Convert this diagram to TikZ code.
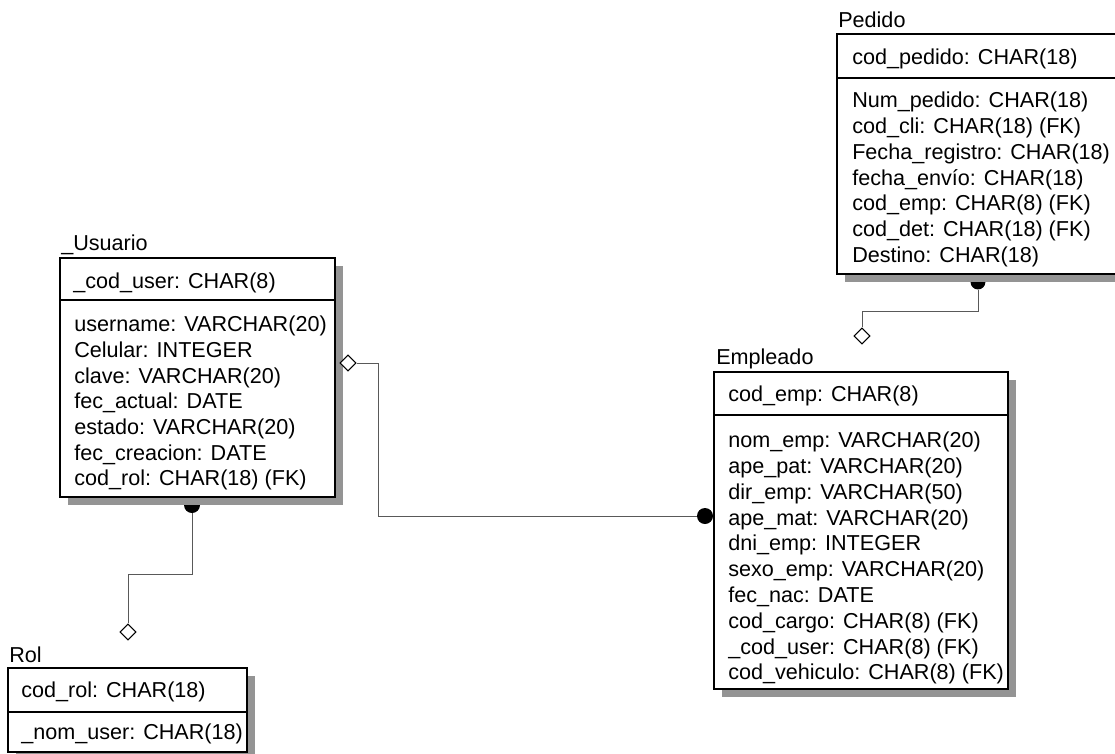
\documentclass[tikz,border=0pt]{standalone}
\usepackage{fontspec}
\setmainfont{Liberation Sans}
\usetikzlibrary{shapes.geometric}
\begin{document}
\begin{tikzpicture}[x=0.75pt,y=-0.75pt,
  tbl/.style={draw=black, line width=0.9pt, fill=white},
  sep/.style={draw=black, line width=0.9pt},
  shade/.style={fill=black!42},
  row/.style={anchor=west, inner sep=0pt, text height=11.6pt, text depth=0pt, font=\fontsize{16.2pt}{19pt}\selectfont},
  conn/.style={draw=black!65, line width=0.6pt},
  dia/.style={diamond, draw=black, line width=0.8pt, fill=white, inner sep=0pt, minimum width=12pt, minimum height=12pt},
  dot/.style={circle, fill=black, inner sep=0pt, minimum size=12pt}]
\clip (0,0) rectangle (1115,754);
\useasboundingbox (0,0) rectangle (1115,754);

% ---------- shadows ----------
\fill[shade] (845,42) rectangle (1133,282);
\fill[shade] (68,266) rectangle (343,505);
\fill[shade] (722,380) rectangle (1016,697);
\fill[shade] (16,676) rectangle (255,760);

% ---------- Pedido ----------
\node[row] (pedT) at (838,20) {Pedido};
\draw[tbl] (837,34) rectangle (1125,274);
\draw[sep] (837,78) -- (1125,78);
\node[row] (pedK) at (852,57) {cod\_pedido: CHAR(18)};
\foreach \t [count=\i from 0] in {Num\_pedido: CHAR(18), cod\_cli: CHAR(18) (FK), Fecha\_registro: CHAR(18), fecha\_envío: CHAR(18), cod\_emp: CHAR(8) (FK), cod\_det: CHAR(18) (FK), Destino: CHAR(18)}
  \node[row] (ped\i) at (852,{100+25.8*\i}) {\t};

% ---------- _Usuario ----------
\node[row] (usrT) at (61,243) {\_Usuario};
\draw[tbl] (60,258) rectangle (335,497);
\draw[sep] (60,300) -- (335,300);
\node[row] (usrK) at (73,281) {\_cod\_user: CHAR(8)};
\foreach \t [count=\i from 0] in {username: VARCHAR(20), Celular: INTEGER, clave: VARCHAR(20), fec\_actual: DATE, estado: VARCHAR(20), fec\_creacion: DATE, cod\_rol: CHAR(18) (FK)}
  \node[row] (usr\i) at (74,{324+25.7*\i}) {\t};

% ---------- Empleado ----------
\node[row] (empT) at (716,357) {Empleado};
\draw[tbl] (714,372) rectangle (1008,689);
\draw[sep] (714,415) -- (1008,415);
\node[row] (empK) at (728,394) {cod\_emp: CHAR(8)};
\foreach \t [count=\i from 0] in {nom\_emp: VARCHAR(20), ape\_pat: VARCHAR(20), dir\_emp: VARCHAR(50), ape\_mat: VARCHAR(20), dni\_emp: INTEGER, sexo\_emp: VARCHAR(20), fec\_nac: DATE, cod\_cargo: CHAR(8) (FK), \_cod\_user: CHAR(8) (FK), cod\_vehiculo: CHAR(8) (FK)}
  \node[row] (emp\i) at (728,{440+25.8*\i}) {\t};

% ---------- Rol ----------
\node[row] (rolT) at (9,655) {Rol};
\draw[tbl] (8,668) rectangle (247,752);
\draw[sep] (8,712) -- (247,712);
\node[row] (rolK) at (21,690) {cod\_rol: CHAR(18)};
\node[row] (rol0) at (21,732) {\_nom\_user: CHAR(18)};

% ---------- connectors ----------
% Pedido -> Empleado
\coordinate (pedEnd) at (978,290);
\coordinate (b1) at (978,311);
\node[dia] (empD) at (862,336) {};
\draw[conn] (pedEnd) -- (b1) -| (empD.north);
\fill (970.5,282) arc[start angle=180, end angle=360, radius=5.6pt] -- cycle;

% Usuario -> Rol
\coordinate (usrEnd) at (192,513);
\coordinate (b2) at (192,574);
\node[dia] (rolD) at (128,632) {};
\draw[conn] (usrEnd) -- (b2) -| (rolD.north);
\fill (184,505) arc[start angle=180, end angle=360, radius=6pt] -- cycle;

% Usuario -> Empleado
\node[dia] (usrD) at (348,363) {};
\node[dot] (empDot) at (705,516) {};
\coordinate (b3) at (378,363);
\draw[conn] (usrD.east) -- (b3) |- (empDot.west);
\end{tikzpicture}
\end{document}
